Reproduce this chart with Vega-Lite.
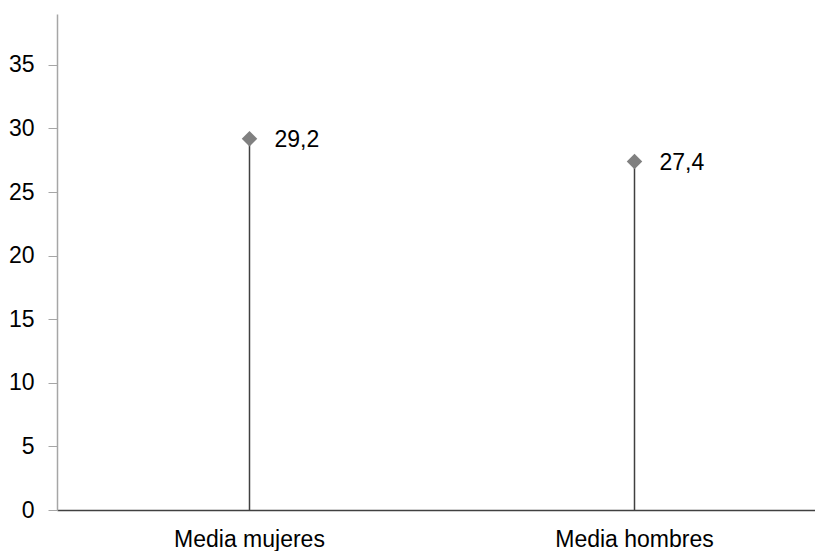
{
  "$schema": "https://vega.github.io/schema/vega-lite/v6.json",
  "autosize": "none",
  "width": 770,
  "height": 496,
  "padding": {"left": 57, "top": 14, "right": 0, "bottom": 41},
  "background": "white",
  "config": {"view": {"stroke": null}, "font": "Liberation Sans"},
  "data": {"values": [
    {"grupo": "Media mujeres", "valor": 29.2, "label": "29,2"},
    {"grupo": "Media hombres", "valor": 27.4, "label": "27,4"}
  ]},
  "encoding": {
    "x": {"field": "grupo", "type": "nominal", "sort": null,
      "scale": {"paddingInner": 0, "paddingOuter": 0},
      "axis": {"title": null, "labelAngle": 0, "ticks": false, "domainColor": "#404040", "domainWidth": 1.5, "labelFontSize": 23, "labelColor": "#000", "labelPadding": 18, "labelFont": "Liberation Sans"}},
    "y": {"field": "valor", "type": "quantitative",
      "scale": {"domain": [0, 39], "nice": false},
      "axis": {"title": null, "values": [0,5,10,15,20,25,30,35], "grid": false, "domainColor": "#a6a6a6", "domainWidth": 1.5, "tickColor": "#a6a6a6", "tickSize": 9, "labelFontSize": 23, "labelColor": "#000", "labelPadding": 14, "labelFont": "Liberation Sans"}}
  },
  "layer": [
    {"mark": {"type": "rule", "color": "#404040", "strokeWidth": 1.5},
     "encoding": {"y2": {"datum": 0}}},
    {"mark": {"type": "point", "shape": "diamond", "filled": true, "color": "#808080", "size": 240, "opacity": 1}},
    {"mark": {"type": "text", "align": "left", "baseline": "middle", "dx": 25, "dy": 1, "fontSize": 23, "color": "#000", "font": "Liberation Sans"},
     "encoding": {"text": {"field": "label"}}}
  ]
}
